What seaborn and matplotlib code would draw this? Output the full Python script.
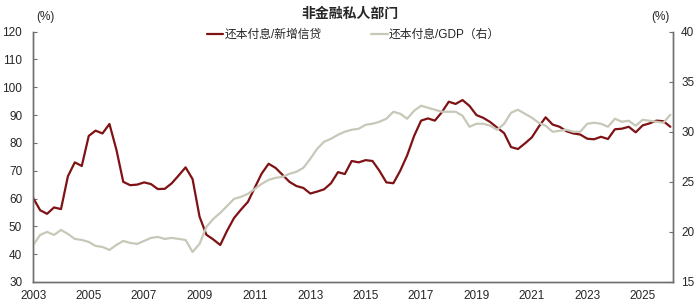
import pandas as pd
import numpy as np
import matplotlib
matplotlib.use("Agg")
import matplotlib.pyplot as plt
import seaborn as sns

# -----------------------------
# Data (quarterly)
# -----------------------------
dates = pd.date_range("2003-01-01", periods=93, freq="QS")

# 还本付息/新增信贷 (left axis, %)
debt_service_new_credit = [
    60.1, 55.8, 54.5, 56.8,   # 2003
    56.2, 68.0, 73.0, 71.7,   # 2004
    82.5, 84.4, 83.4, 86.8,   # 2005
    77.5, 66.0, 64.8, 65.0,   # 2006
    65.8, 65.2, 63.4, 63.5,   # 2007
    65.5, 68.3, 71.2, 67.0,   # 2008
    53.5, 47.0, 45.3, 43.3,   # 2009
    48.5, 53.0, 56.0, 58.8,   # 2010
    64.0, 69.0, 72.5, 71.0,   # 2011
    68.5, 66.0, 64.5, 63.8,   # 2012
    61.8, 62.5, 63.3, 65.5,   # 2013
    69.5, 68.8, 73.5, 73.0,   # 2014
    73.8, 73.5, 70.0, 65.8,   # 2015
    65.5, 70.0, 75.5, 82.5,   # 2016
    88.0, 88.8, 88.0, 91.0,   # 2017
    94.8, 94.0, 95.4, 93.3,   # 2018
    90.0, 89.0, 87.5, 85.5,   # 2019
    83.5, 78.5, 77.8, 79.8,   # 2020
    82.0, 85.8, 89.2, 86.6,   # 2021
    85.8, 84.2, 83.4, 83.0,   # 2022
    81.5, 81.3, 82.2, 81.4,   # 2023
    84.9, 85.1, 85.8, 83.8,   # 2024
    86.3, 87.0, 88.0, 87.8,   # 2025
    85.8,                     # 2026
]

# 还本付息/GDP (right axis, %)
debt_service_gdp = [
    18.7, 19.7, 20.0, 19.7,   # 2003
    20.2, 19.8, 19.3, 19.2,   # 2004
    19.0, 18.6, 18.5, 18.2,   # 2005
    18.7, 19.1, 18.9, 18.8,   # 2006
    19.1, 19.4, 19.5, 19.3,   # 2007
    19.4, 19.3, 19.2, 18.0,   # 2008
    18.8, 20.5, 21.3, 21.9,   # 2009
    22.6, 23.3, 23.5, 23.8,   # 2010
    24.3, 24.8, 25.2, 25.4,   # 2011
    25.5, 25.8, 26.0, 26.4,   # 2012
    27.3, 28.3, 29.0, 29.3,   # 2013
    29.7, 30.0, 30.2, 30.3,   # 2014
    30.7, 30.8, 31.0, 31.3,   # 2015
    32.0, 31.8, 31.3, 32.1,   # 2016
    32.6, 32.4, 32.2, 32.0,   # 2017
    32.0, 32.0, 31.6, 30.5,   # 2018
    30.8, 30.8, 30.6, 30.2,   # 2019
    30.8, 31.9, 32.2, 31.8,   # 2020
    31.4, 30.9, 30.6, 30.0,   # 2021
    30.1, 30.2, 30.0, 30.0,   # 2022
    30.8, 30.9, 30.8, 30.5,   # 2023
    31.3, 31.0, 31.1, 30.6,   # 2024
    31.2, 31.1, 31.0, 30.9,   # 2025
    31.7,                     # 2026
]

title = "非金融私人部门"
label_left = "还本付息/新增信贷"
label_right = "还本付息/GDP（右）"
tick_years = list(range(2003, 2026, 2))

# -----------------------------
# Style
# -----------------------------
sns.set_style("white")
plt.rcParams["font.family"] = ["Liberation Sans", "Noto Sans CJK SC", "DejaVu Sans"]
plt.rcParams["font.size"] = 8.5

red = "#7f1214"
grey = "#c8c8b8"
axis_col = "#707070"

fig = plt.figure(figsize=(7, 3.04), dpi=100)
ax = fig.add_axes([0.0476, 0.0724, 0.9134, 0.8236])
ax2 = ax.twinx()

sns.lineplot(x=dates, y=debt_service_new_credit, ax=ax, color=red, linewidth=1.6, label=label_left, legend=False)
sns.lineplot(x=dates, y=debt_service_gdp, ax=ax2, color=grey, linewidth=1.6, label=label_right, legend=False)

# axes ranges / ticks
ax.set_xlim(pd.Timestamp("2003-01-01"), pd.Timestamp("2026-02-01"))
ax.set_ylim(30, 120)
ax.set_yticks(np.arange(30, 121, 10))
ax2.set_ylim(15, 40)
ax2.set_yticks(np.arange(15, 41, 5))
ax.set_xticks(pd.to_datetime([f"{y}-01-01" for y in tick_years]))
ax.set_xticklabels([str(y) for y in tick_years])

for a in (ax, ax2):
    a.set_xlabel("")
    a.set_ylabel("")
    a.spines["top"].set_visible(False)
    for s in ("left", "right", "bottom"):
        a.spines[s].set_color(axis_col)
        a.spines[s].set_linewidth(1.0)

ax.tick_params(axis="y", direction="in", length=3, color=axis_col, pad=8, labelsize=8.5)
ax.tick_params(axis="x", direction="in", length=3, color=axis_col, pad=6, labelsize=8.5)
ax2.tick_params(axis="y", direction="in", length=3, color=axis_col, pad=6, labelsize=8.5)

# legend (both series, one row)
handles = ax.get_lines()[:1] + ax2.get_lines()[:1]
fig.legend(handles, [label_left, label_right], loc="center",
           bbox_to_anchor=(0.505, 0.885), ncol=2, frameon=False,
           fontsize=8.5, handlelength=1.4, handletextpad=0.1, columnspacing=4.2,
           borderpad=0)

fig.suptitle(title, x=0.5, y=0.955, va="center", fontsize=10, fontweight="bold")
fig.text(0.065, 0.945, "(%)", ha="center", va="center", fontsize=8.5)
fig.text(0.944, 0.945, "(%)", ha="center", va="center", fontsize=8.5)

fig.savefig("out.png", dpi=100)
